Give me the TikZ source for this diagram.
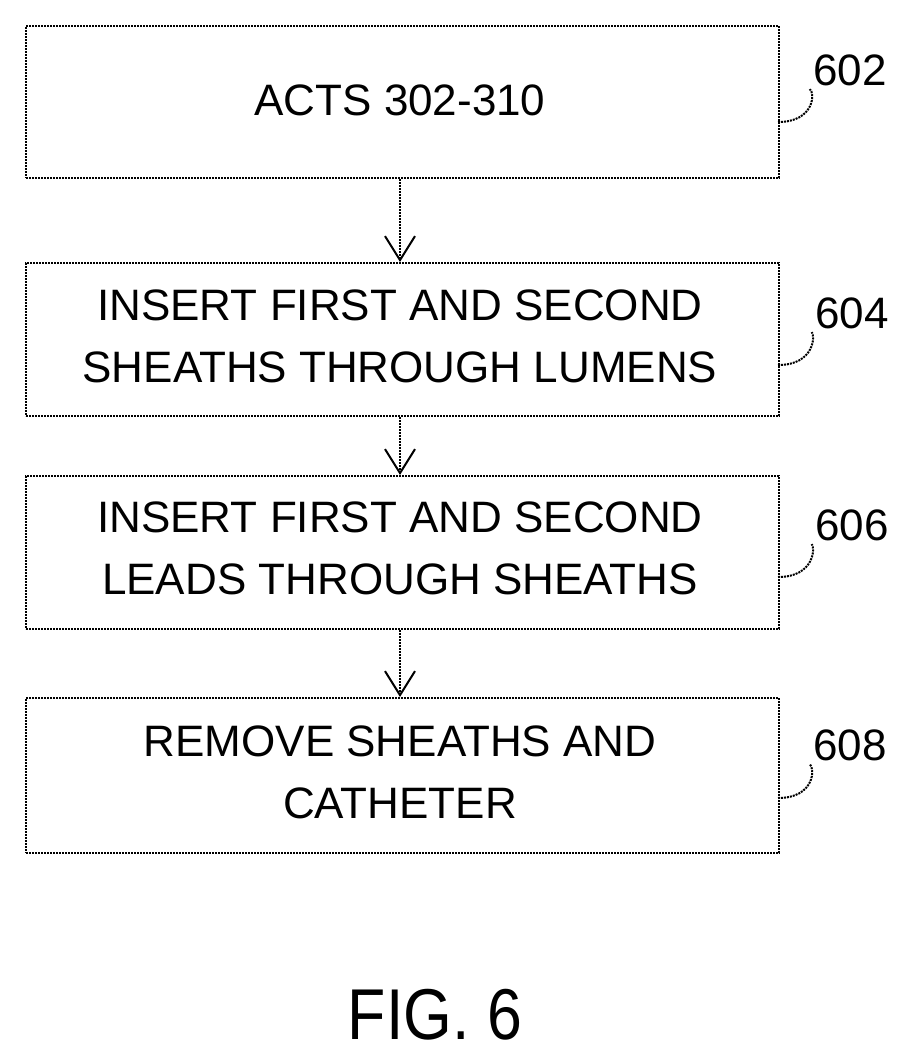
\documentclass[tikz,border=0pt]{standalone}
\usepackage{fontspec}
\setmainfont{Liberation Sans}
\usetikzlibrary{arrows.meta}
\begin{document}
\begin{tikzpicture}[x=1pt,y=-1pt,
  box/.style={draw,line width=2pt,densely dotted,minimum width=753pt,anchor=north west,inner sep=0pt},
  txt/.style={font=\fontsize{44}{62}\selectfont,align=center},
  lbl/.style={font=\fontsize{44}{50}\selectfont},
  arr/.style={line width=2pt,densely dotted,-{Straight Barb[length=24pt,width=30pt,line width=2pt]}},
  lead/.style={line width=2pt,densely dotted}]
\useasboundingbox (0,0) rectangle (910,1063);
\node[box,minimum height=152pt] (b1) at (25,25) {};
\node[box,minimum height=153pt] (b2) at (25,262) {};
\node[box,minimum height=153pt] (b3) at (25,475) {};
\node[box,minimum height=155pt] (b4) at (25,697) {};
\node[txt] (t1) at (400,100) {ACTS 302-310};
\node[txt] (t2) at (400,336) {INSERT FIRST AND SECOND\\SHEATHS THROUGH LUMENS};
\node[txt] (t3) at (400,548) {INSERT FIRST AND SECOND\\LEADS THROUGH SHEATHS};
\node[txt] (t4) at (400,772) {REMOVE SHEATHS AND\\CATHETER};
\draw[arr] (b1.south -| t1) -- (b2.north -| t1);
\draw[arr] (b2.south -| t1) -- (b3.north -| t1);
\draw[arr] (b3.south -| t1) -- (b4.north -| t1);
\node[lbl] (l1) at (850,70) {602};
\node[lbl] (l2) at (852,313) {604};
\node[lbl] (l3) at (852,525) {606};
\node[lbl] (l4) at (850,745) {608};
\foreach \b/\l/\y in {b1/l1/122, b2/l2/365, b3/l3/577, b4/l4/798}{
  \coordinate (s) at (778,\y);
  \draw[lead] (s) .. controls (815,\y) and (815,\y-30) .. (\l.south west);
}
\node[font=\fontsize{72}{80}\selectfont,xscale=0.87] (fig) at (435,1015) {FIG. 6};
\end{tikzpicture}
\end{document}
